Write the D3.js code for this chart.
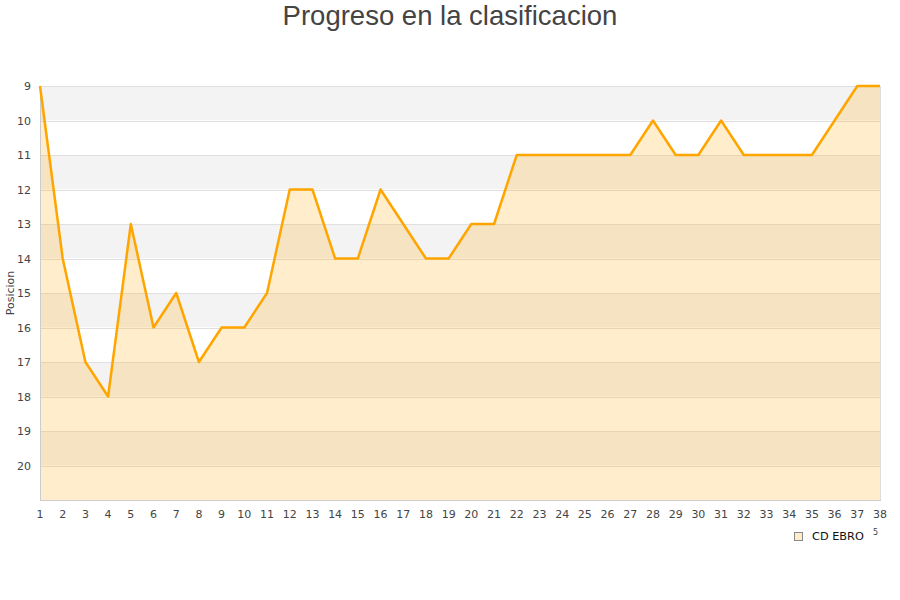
<!DOCTYPE html>
<html>
<head>
<meta charset="utf-8">
<script src="https://cdn.jsdelivr.net/npm/d3@7"></script>
<style>
  html, body { margin: 0; padding: 0; background: #fff; }
  svg { display: block; }
</style>
</head>
<body>
<svg id="chart" width="900" height="600"></svg>
<script>
const title = "Progreso en la clasificacion";
const yLabel = "Posicion";
const seriesName = "CD EBRO";
const jornadas = [1,2,3,4,5,6,7,8,9,10,11,12,13,14,15,16,17,18,19,20,21,22,23,24,25,26,27,28,29,30,31,32,33,34,35,36,37,38];
const posiciones = [9,14,17,18,13,16,15,17,16,16,15,12,12,14,14,12,13,14,14,13,13,11,11,11,11,11,11,10,11,11,10,11,11,11,11,10,9,9];
const yTicks = [9,10,11,12,13,14,15,16,17,18,19,20];
const yDomain = [9, 21];

(function () {
const svg = d3.select("#chart");
const pLeft = 40, pRight = 880, pTop = 86, pBottom = 500;

const x = d3.scaleLinear().domain([1, 38]).range([pLeft, pRight]);
const y = d3.scaleLinear().domain(yDomain).range([pTop, pBottom]);

// alternating bands
const bands = d3.range(yDomain[0], yDomain[1]);
svg.append("g").selectAll("rect").data(bands).join("rect")
  .attr("x", pLeft).attr("width", pRight - pLeft)
  .attr("y", d => y(d)).attr("height", d => y(d + 1) - y(d))
  .attr("fill", (d, i) => i % 2 === 0 ? "#f3f3f3" : "#ffffff");

// gridlines
svg.append("g").selectAll("line").data(d3.range(yDomain[0], yDomain[1] + 1)).join("line")
  .attr("x1", pLeft).attr("x2", pRight)
  .attr("y1", d => Math.round(y(d)) + 0.5).attr("y2", d => Math.round(y(d)) + 0.5)
  .attr("stroke", "#e0e0e0").attr("stroke-width", 1);

const data = jornadas.map((j, i) => ({ j, p: posiciones[i] }));

// area
const area = d3.area().x(d => x(d.j)).y0(y(yDomain[1])).y1(d => y(d.p));
svg.append("path").datum(data).attr("d", area)
  .attr("fill", "rgba(255,165,0,0.2)");

// borders
svg.append("line").attr("x1", pLeft + 0.5).attr("x2", pLeft + 0.5).attr("y1", pTop).attr("y2", pBottom)
  .attr("stroke", "#cccccc");
svg.append("line").attr("x1", pRight + 0.5).attr("x2", pRight + 0.5).attr("y1", pTop).attr("y2", pBottom)
  .attr("stroke", "#dddddd");
svg.append("line").attr("x1", pLeft).attr("x2", pRight + 1).attr("y1", pBottom + 0.5).attr("y2", pBottom + 0.5)
  .attr("stroke", "#cccccc");

// line
const line = d3.line().x(d => x(d.j)).y(d => y(d.p));
svg.append("path").datum(data).attr("d", line)
  .attr("fill", "none").attr("stroke", "#ffa500").attr("stroke-width", 2.5)
  .attr("stroke-linejoin", "round");

// y axis labels
svg.append("g").selectAll("text").data(yTicks).join("text")
  .attr("x", 31).attr("y", d => y(d) + 4)
  .attr("text-anchor", "end")
  .attr("font-family", "DejaVu Sans, sans-serif").attr("font-size", 11)
  .attr("fill", "#444").text(d => d);

// x axis labels
svg.append("g").selectAll("text").data(jornadas).join("text")
  .attr("x", d => x(d)).attr("y", 518)
  .attr("text-anchor", "middle")
  .attr("font-family", "DejaVu Sans, sans-serif").attr("font-size", 11)
  .attr("fill", "#444").text(d => d);

// y label
svg.append("text")
  .attr("transform", `translate(14,${(pTop + pBottom) / 2}) rotate(-90)`)
  .attr("text-anchor", "middle")
  .attr("font-family", "DejaVu Sans, sans-serif").attr("font-size", 11)
  .attr("fill", "#444").text(yLabel);

// title
svg.append("text")
  .attr("x", 450).attr("y", 25)
  .attr("text-anchor", "middle")
  .attr("font-family", "Liberation Sans, Arial, sans-serif").attr("font-size", 27.5)
  .attr("fill", "#444").text(title);

// legend
svg.append("rect").attr("x", 794.5).attr("y", 532.5).attr("width", 8).attr("height", 8)
  .attr("fill", "#ffedcc").attr("stroke", "#888");
svg.append("text").attr("x", 812).attr("y", 540)
  .attr("font-family", "DejaVu Sans, sans-serif").attr("font-size", 11.3)
  .attr("fill", "#111").text(seriesName);
svg.append("text").attr("x", 873).attr("y", 535)
  .attr("font-family", "DejaVu Sans, sans-serif").attr("font-size", 8)
  .attr("fill", "#444").text("5");
})();
</script>
</body>
</html>
